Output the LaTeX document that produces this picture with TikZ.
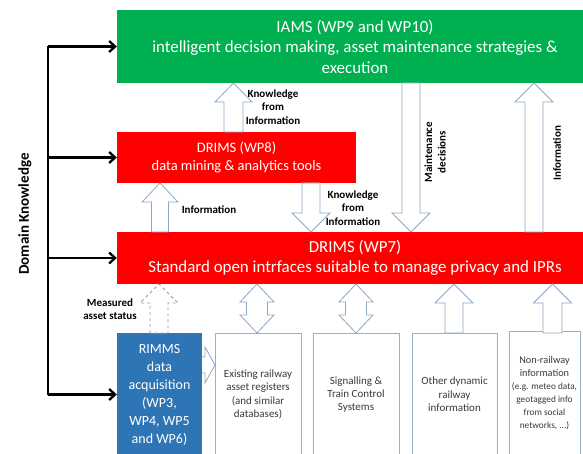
\documentclass[tikz,border=0pt]{standalone}
\usepackage{fontspec}
\setmainfont{Carlito}
\usetikzlibrary{arrows.meta}
\definecolor{iamsgreen}{HTML}{00B050}
\definecolor{drred}{HTML}{FF0000}
\definecolor{rimblue}{HTML}{2E75B6}
\definecolor{arrline}{HTML}{8EA7C6}
\definecolor{boxline}{HTML}{9AB0C8}
\definecolor{txtgrey}{HTML}{3A3A3A}
% block arrows: #1 options, #2 x centre, #3 tip y, #4 base y, #5 shaft half width, #6 head half width
\newcommand\blkup[6][]{\draw[blk,#1] (#2-#5,#4) -- (#2-#5,#3+19) -- (#2-#6,#3+19) -- (#2,#3) -- (#2+#6,#3+19) -- (#2+#5,#3+19) -- (#2+#5,#4) -- cycle;}
\newcommand\blkdown[6][]{\draw[blk,#1] (#2-#5,#4) -- (#2-#5,#3-19) -- (#2-#6,#3-19) -- (#2,#3) -- (#2+#6,#3-19) -- (#2+#5,#3-19) -- (#2+#5,#4) -- cycle;}
\newcommand\blkdbl[5]{\draw[blk] (#1,#2) -- (#1+#5,#2+18) -- (#1+#4,#2+18) -- (#1+#4,#3-18) -- (#1+#5,#3-18) -- (#1,#3) -- (#1-#5,#3-18) -- (#1-#4,#3-18) -- (#1-#4,#2+18) -- (#1-#5,#2+18) -- cycle;}
\newcommand\smalltxt{\fontsize{9.3}{11.5}\selectfont}
\begin{document}
\begin{tikzpicture}[x=1pt,y=-1pt,
  bigbox/.style={draw=none,inner sep=0pt,align=center,text=white},
  srcbox/.style={draw=boxline,line width=0.9pt,fill=white,inner sep=0pt,align=center,text=txtgrey,
    minimum height=123pt,font=\fontsize{11}{13.3}\selectfont},
  blk/.style={draw=arrline,line width=0.8pt,fill=white,line join=miter},
  lbl/.style={inner sep=0pt,align=center,font=\bfseries\fontsize{11}{13.5}\selectfont},
  dkl/.style={line width=2.3pt,black},
  dka/.style={line width=2.3pt,black,-{Straight Barb[length=6pt,width=11pt,line width=2.3pt]}}]
\useasboundingbox (0,0) rectangle (583,454);
\clip (0,0) rectangle (583,454);
\fill[white] (0,0) rectangle (583,454);

% main boxes
\node[bigbox,fill=iamsgreen,minimum width=476pt,minimum height=73pt,font=\fontsize{16.9}{20.5}\selectfont]
  (iams) at (355,46.5) {IAMS (WP9 and WP10)\\intelligent decision making, asset maintenance strategies \&\\execution};
\node[bigbox,fill=drred,minimum width=239pt,minimum height=51pt,font=\fontsize{14.5}{17.5}\selectfont]
  (wp8) at (236.5,157.5) {DRIMS (WP8)\\data mining \& analytics tools};
\node[bigbox,fill=drred,minimum width=476pt,minimum height=52pt,font=\fontsize{16.9}{19.5}\selectfont]
  (wp7) at (355,258) {DRIMS (WP7)\\Standard open intrfaces suitable to manage privacy and IPRs};
\node[bigbox,fill=rimblue,minimum width=85pt,minimum height=123pt,font=\fontsize{14}{18}\selectfont]
  (rimms) at (159.5,394.5) {RIMMS\\data\\acquisition\\(WP3,\\WP4, WP5\\and WP6)};

% source boxes
\node[srcbox,minimum width=86pt] (exist) at (258,394.5) {Existing railway\\asset registers\\(and similar\\databases)};
\node[srcbox,minimum width=86pt] (signal) at (356,394.5) {Signalling \&\\Train Control\\Systems};
\node[srcbox,minimum width=85pt] (other) at (454.5,394.5) {Other dynamic\\railway\\information};
\node[srcbox,minimum width=71pt,font=\fontsize{10.3}{13}\selectfont] (nonrail) at (544.5,393) {Non-railway\\information\\{\smalltxt (e.g. meteo data,}\\{\smalltxt geotagged info}\\{\smalltxt from social}\\{\smalltxt networks, ...)}};

% block arrows
\blkup{233.5}{83}{132}{9.5}{18.5}
\blkup{160}{183}{232}{8.5}{18}
\blkdown{311}{232}{183}{9}{19}
\blkdown{411}{232}{83}{9}{19}
\blkup{534}{83}{232}{9}{19}
\blkup[dashed,draw=gray!80]{159}{284}{333}{9}{19}
\blkdbl{257}{284}{333}{10.5}{17}
\blkdbl{356}{284}{333}{10.5}{17}
\blkup{454}{284}{333}{9}{19}
\blkup{552.5}{284}{333}{9.5}{19}
\draw[blk] (202,357) -- (205,357) -- (205,347) -- (215,365) -- (205,383) -- (205,373) -- (202,373);

% labels
\node[lbl] (l1) at (273,107) {Knowledge\\from\\Information};
\node[lbl] (l2) at (209,210) {Information};
\node[lbl] (l3) at (353,208) {Knowledge\\from\\Information};
\node[lbl,rotate=90] (l4) at (435,152) {Maintenance\\decisions};
\node[lbl,rotate=90] (l5) at (557,153) {Information};
\node[lbl] (l6) at (110,309) {Measured\\asset status};
\node[inner sep=0pt,rotate=90,font=\bfseries\fontsize{15}{17}\selectfont] (dk) at (25,214) {Domain Knowledge};

% domain knowledge connectors
\coordinate (dkx) at (48,0);
\draw[dkl] (dkx |- iams.west) -- (dkx |- rimms.west);
\draw[dka] (dkx |- iams.west) -- (iams.west);
\draw[dka] (dkx |- wp8.west) -- (wp8.west);
\draw[dka] (dkx |- wp7.west) -- (wp7.west);
\draw[dka] (dkx |- rimms.west) -- (rimms.west);
\end{tikzpicture}
\end{document}
